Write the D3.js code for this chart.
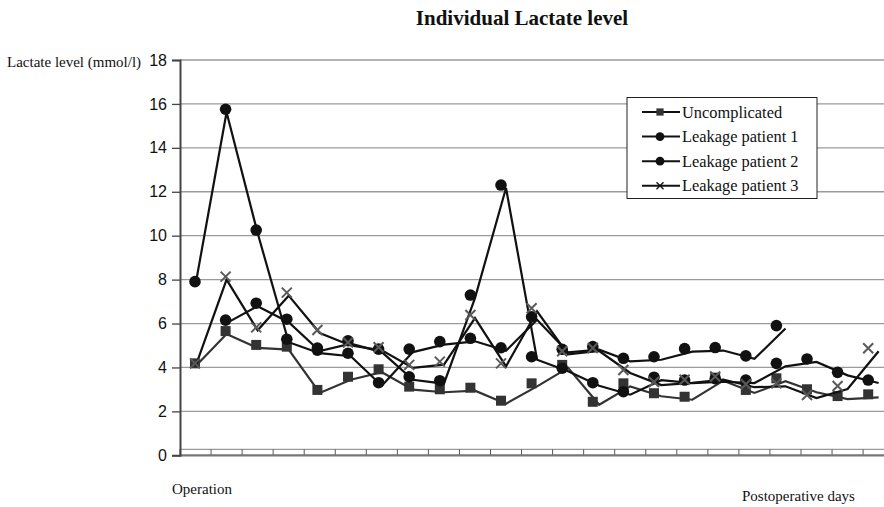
<!DOCTYPE html>
<html>
<head>
<meta charset="utf-8">
<script src="https://cdn.jsdelivr.net/npm/d3@7"></script>
<style>
  html, body { margin: 0; padding: 0; background: #fff; }
  svg { display: block; }
</style>
</head>
<body>
<svg id="chart" width="884" height="507"></svg>
<script>
// Postoperative days (index 0 = day of operation)
const days = d3.range(23);

// Lactate level (mmol/l) per day; null = not measured
const uncomplicated = [4.05, 5.52, 4.89, 4.81, 2.84, 3.44, 3.78, 2.99, 2.87, 2.94, 2.35, 3.14,
  3.98, 2.30, 3.14, 2.69, 2.53, 3.40, 2.84, 3.37, 2.87, 2.56, 2.64];
const leakage1 = [7.77, 15.62, 10.12, 5.15, 4.65, 4.51, 3.17, 4.70, 5.04, 5.19, 4.76, 6.17,
  4.69, 4.81, 4.28, 4.35, 4.72, 4.77, 4.39, 5.77, null, null, null];
const leakage2 = [null, 6.02, 6.79, 6.06, 4.75, 5.08, 4.70, 3.44, 3.26, 7.16, 12.17, 4.35,
  3.83, 3.17, 2.76, 3.42, 3.29, 3.35, 3.29, 4.05, 4.25, 3.64, 3.29];
const leakage3 = [4.05, 8.00, 5.69, 7.27, 5.57, 5.00, 4.78, 3.98, 4.13, 6.25, 4.05, 6.56,
  4.60, 4.75, 3.75, 3.20, 3.30, 3.45, 3.10, 3.14, 2.61, 3.02, 4.74];

const seriesNames = ["Uncomplicated", "Leakage patient 1", "Leakage patient 2", "Leakage patient 3"];
const yTicks = [0, 2, 4, 6, 8, 10, 12, 14, 16, 18];

const series = [
  { name: seriesNames[0], values: uncomplicated, marker: "square", line: "#333", fill: "#333" },
  { name: seriesNames[1], values: leakage1, marker: "circle", line: "#111", fill: "#111" },
  { name: seriesNames[2], values: leakage2, marker: "circle", line: "#111", fill: "#111" },
  { name: seriesNames[3], values: leakage3, marker: "cross", line: "#111", fill: "#5a5a5a" }
];

const svg = d3.select("#chart");
const plotLeft = 180, plotTop = 60, plotBottom = 455.3, step = 31.05;

// category bands (lines + tick marks) and marker positions
const x = d3.scaleBand().domain(days).range([plotLeft, plotLeft + step * days.length]);
const xMark = d3.scalePoint().domain(days).range([195, 868.2]);
const y = d3.scaleLinear().domain([0, 18]).range([plotBottom, plotTop]);
const yMark = d3.scaleLinear().domain([0, 18]).range([plotBottom - 3, plotTop - 3]);
const xc = d => x(d) + x.bandwidth() / 2;

// gridlines
svg.append("g").selectAll("line").data(yTicks.filter(t => t > 0)).join("line")
  .attr("x1", plotLeft).attr("x2", 884)
  .attr("y1", d => y(d)).attr("y2", d => y(d))
  .attr("stroke", "#9a9a9a").attr("stroke-width", 1.3);

// x axis: floor line, tick marks, baseline
svg.append("line").attr("x1", plotLeft).attr("x2", 884).attr("y1", plotBottom - 6).attr("y2", plotBottom - 6)
  .attr("stroke", "#9a9a9a").attr("stroke-width", 1.2);
svg.append("g").selectAll("line").data(days).join("line")
  .attr("x1", d => x(d)).attr("x2", d => x(d))
  .attr("y1", plotBottom - 6).attr("y2", plotBottom)
  .attr("stroke", "#555").attr("stroke-width", 1);
svg.append("line").attr("x1", plotLeft).attr("x2", 884).attr("y1", plotBottom).attr("y2", plotBottom)
  .attr("stroke", "#777").attr("stroke-width", 2.2);

// y axis
const yAxis = d3.axisLeft(y).tickValues(yTicks).tickSize(8).tickPadding(5);
const yg = svg.append("g").attr("transform", `translate(${plotLeft},0)`).call(yAxis);
yg.select(".domain").attr("stroke", "#444").attr("stroke-width", 2);
yg.selectAll(".tick line").attr("stroke", "#444").attr("stroke-width", 1.3);
yg.selectAll(".tick text").attr("font-family", "'Liberation Sans', Arial, sans-serif")
  .attr("font-size", 16).attr("fill", "#111");

// series lines and markers
const line = d3.line().defined(d => d.v != null).x(d => xc(d.i)).y(d => y(d.v));
const crossPath = (s) => `M${-s},${-s}L${s},${s}M${-s},${s}L${s},${-s}`;

function drawMarker(g, type, fill, size) {
  if (type === "square") {
    g.append("rect").attr("x", -size).attr("y", -size).attr("width", size * 2).attr("height", size * 2)
      .attr("fill", fill);
  } else if (type === "circle") {
    g.append("circle").attr("r", size + 0.8).attr("fill", fill);
  } else {
    g.append("path").attr("d", crossPath(size)).attr("stroke", fill).attr("stroke-width", 2).attr("fill", "none");
  }
}

series.forEach(s => {
  const pts = s.values.map((v, i) => ({ i, v }));
  svg.append("path").datum(pts).attr("d", line)
    .attr("fill", "none").attr("stroke", s.line).attr("stroke-width", 2.2)
    .attr("stroke-linejoin", "miter");
  pts.filter(d => d.v != null).forEach(d => {
    const g = svg.append("g").attr("transform", `translate(${xMark(d.i)},${yMark(d.v)})`);
    drawMarker(g, s.marker, s.fill, 5);
  });
});

// legend
const serif = "'Liberation Serif', 'Times New Roman', serif";
const lg = svg.append("g");
lg.append("rect").attr("x", 627).attr("y", 97.5).attr("width", 190).attr("height", 101)
  .attr("fill", "#fff").attr("stroke", "#222").attr("stroke-width", 1);
series.forEach((s, k) => {
  const yy = 112 + k * 24.6;
  lg.append("line").attr("x1", 642).attr("x2", 680).attr("y1", yy).attr("y2", yy)
    .attr("stroke", "#111").attr("stroke-width", 2);
  const g = lg.append("g").attr("transform", `translate(660,${yy})`);
  if (s.marker === "cross") {
    g.append("path").attr("d", crossPath(3.5)).attr("stroke", "#111").attr("stroke-width", 1.3);
  } else {
    drawMarker(g, s.marker, s.marker === "square" ? "#333" : "#111", 3.6);
  }
  lg.append("text").attr("x", 682).attr("y", yy + 5.5)
    .attr("font-family", serif)
    .attr("font-size", 16.4).attr("fill", "#111").text(s.name);
});

// titles and labels
svg.append("text").attr("x", 522).attr("y", 25).attr("text-anchor", "middle")
  .attr("font-family", serif).attr("font-weight", "bold").attr("font-size", 21).attr("fill", "#111")
  .text("Individual Lactate level");
svg.append("text").attr("x", 7).attr("y", 67)
  .attr("font-family", serif).attr("font-size", 15).attr("fill", "#111")
  .text("Lactate level (mmol/l)");
svg.append("text").attr("x", 172).attr("y", 494)
  .attr("font-family", serif).attr("font-size", 15).attr("fill", "#111")
  .text("Operation");
svg.append("text").attr("x", 742).attr("y", 501)
  .attr("font-family", serif).attr("font-size", 15).attr("fill", "#111")
  .text("Postoperative days");
</script>
</body>
</html>
